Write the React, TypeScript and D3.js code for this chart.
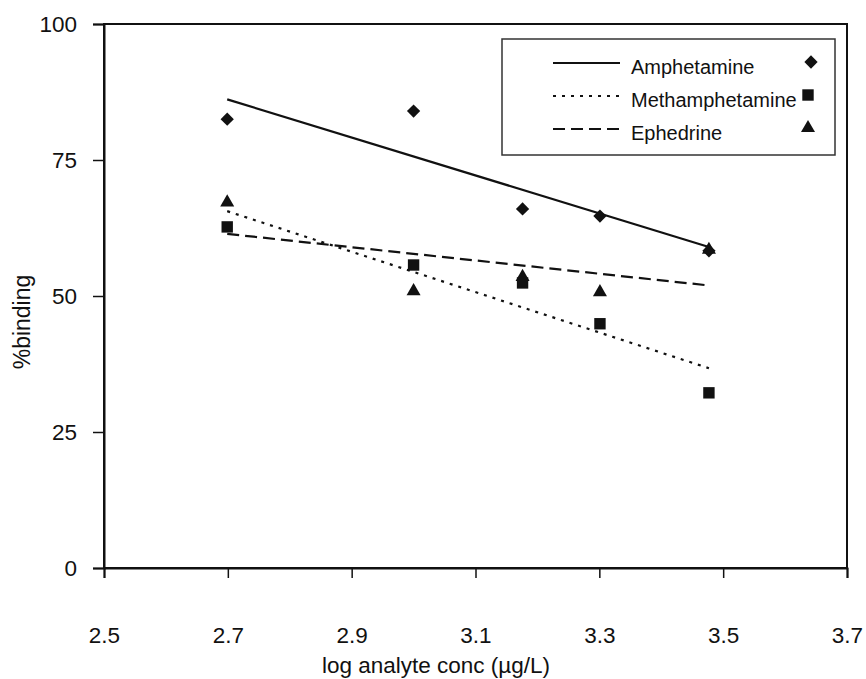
import React, { useRef, useEffect } from "react";
import * as d3 from "d3";

// data
const logConc = [2.699, 3.0, 3.176, 3.301, 3.477];
const amphetamine = [82.5, 84.0, 66.0, 64.7, 58.3];
const methamphetamine = [62.7, 55.7, 52.4, 44.9, 32.2];
const ephedrine = [67.2, 50.9, 53.5, 50.7, 58.5];
const seriesNames = ["Amphetamine", "Methamphetamine", "Ephedrine"];
const xTicks = [2.5, 2.7, 2.9, 3.1, 3.3, 3.5, 3.7];
const yTicks = [0, 25, 50, 75, 100];

const W = 866;
const H = 679;
const margin = { left: 104, right: 19, top: 24, bottom: 111 };
const FONT = "'Liberation Sans', Arial, Helvetica, sans-serif";
const INK = "#111";

// least-squares trend line, like the spreadsheet's linear trendline
function linearFit(xs: number[], ys: number[]) {
  const mx = d3.mean(xs) as number;
  const my = d3.mean(ys) as number;
  let sxy = 0;
  let sxx = 0;
  xs.forEach((x, i) => {
    sxy += (x - mx) * (ys[i] - my);
    sxx += (x - mx) * (x - mx);
  });
  const slope = sxy / sxx;
  return (x: number) => my + slope * (x - mx);
}

export default function App() {
  const svgRef = useRef<SVGSVGElement>(null);

  useEffect(() => {
    const svg = d3.select(svgRef.current);
    svg.selectAll("*").remove();

    const x = d3.scaleLinear().domain([2.5, 3.7]).range([margin.left, W - margin.right]);
    const y = d3.scaleLinear().domain([0, 100]).range([H - margin.bottom, margin.top]);

    const series = [
      { name: seriesNames[0], values: amphetamine, dash: null, symbol: "diamond" },
      { name: seriesNames[1], values: methamphetamine, dash: "3,6", symbol: "square" },
      { name: seriesNames[2], values: ephedrine, dash: "12,6", symbol: "triangle" },
    ];

    const drawSymbol = (g: any, kind: string, cx: number, cy: number) => {
      if (kind === "diamond") {
        g.append("path")
          .attr("d", d3.symbol().type(d3.symbolSquare).size(88)())
          .attr("transform", `translate(${cx},${cy}) rotate(45)`)
          .attr("fill", INK);
      } else if (kind === "square") {
        g.append("path")
          .attr("d", d3.symbol().type(d3.symbolSquare).size(130)())
          .attr("transform", `translate(${cx},${cy})`)
          .attr("fill", INK);
      } else {
        g.append("path")
          .attr("d", d3.symbol().type(d3.symbolTriangle).size(85)())
          .attr("transform", `translate(${cx},${cy})`)
          .attr("fill", INK);
      }
    };

    // plot frame
    svg.append("rect")
      .attr("x", x(2.5)).attr("y", y(100))
      .attr("width", x(3.7) - x(2.5)).attr("height", y(0) - y(100))
      .attr("fill", "none").attr("stroke", INK).attr("stroke-width", 2);

    // y axis
    const yAxis = d3.axisLeft(y).tickValues(yTicks).tickSize(11).tickPadding(16).tickFormat(d3.format("d"));
    const ya = svg.append("g").attr("transform", `translate(${x(2.5)},0)`).call(yAxis);
    ya.select(".domain").attr("stroke", INK).attr("stroke-width", 2);
    ya.selectAll(".tick line").attr("stroke", INK).attr("stroke-width", 1.5);
    ya.selectAll("text").attr("font-family", FONT).attr("font-size", 22.5).attr("fill", INK);

    // x axis
    const xAxis = d3.axisBottom(x).tickValues(xTicks).tickSize(10).tickPadding(49).tickFormat(d3.format(".1f"));
    const xa = svg.append("g").attr("transform", `translate(0,${y(0)})`).call(xAxis);
    xa.select(".domain").attr("stroke", INK).attr("stroke-width", 2);
    xa.selectAll(".tick line").attr("stroke", INK).attr("stroke-width", 1.5);
    xa.selectAll("text").attr("font-family", FONT).attr("font-size", 22.5).attr("fill", INK);

    // axis titles
    svg.append("text")
      .attr("x", 436).attr("y", 673)
      .attr("text-anchor", "middle")
      .attr("font-family", FONT).attr("font-size", 22.5).attr("fill", INK)
      .text("log analyte conc (µg/L)");
    svg.append("text")
      .attr("transform", `translate(30,322) rotate(-90)`)
      .attr("text-anchor", "middle")
      .attr("font-family", FONT).attr("font-size", 23).attr("fill", INK)
      .text("%binding");

    // trend lines
    const x0 = d3.min(logConc) as number;
    const x1 = d3.max(logConc) as number;
    series.forEach((s) => {
      const fit = linearFit(logConc, s.values);
      svg.append("line")
        .attr("x1", x(x0)).attr("y1", y(fit(x0)))
        .attr("x2", x(x1)).attr("y2", y(fit(x1)))
        .attr("stroke", INK).attr("stroke-width", 2.2)
        .attr("stroke-dasharray", s.dash);
    });

    // markers
    const marks = svg.append("g");
    series.forEach((s) => {
      s.values.forEach((v, i) => drawSymbol(marks, s.symbol, x(logConc[i]), y(v)));
    });

    // legend
    const lg = svg.append("g");
    lg.append("rect")
      .attr("x", 502).attr("y", 39).attr("width", 333).attr("height", 116)
      .attr("fill", "white").attr("stroke", "#333").attr("stroke-width", 1.5);
    series.forEach((s, i) => {
      const ly = 63 + i * 33;
      lg.append("line")
        .attr("x1", 553).attr("x2", 620).attr("y1", ly).attr("y2", ly)
        .attr("stroke", INK).attr("stroke-width", 2)
        .attr("stroke-dasharray", s.dash);
      lg.append("text")
        .attr("x", 631).attr("y", ly + 11)
        .attr("font-family", FONT).attr("font-size", 20).attr("fill", INK)
        .text(s.name);
      drawSymbol(lg, s.symbol, i === 0 ? 811 : 808, ly - 1);
    });
  }, []);

  return (
    <svg
      ref={svgRef}
      width={W}
      height={H}
      style={{ position: "absolute", left: 0, top: 0, background: "white" }}
    />
  );
}
